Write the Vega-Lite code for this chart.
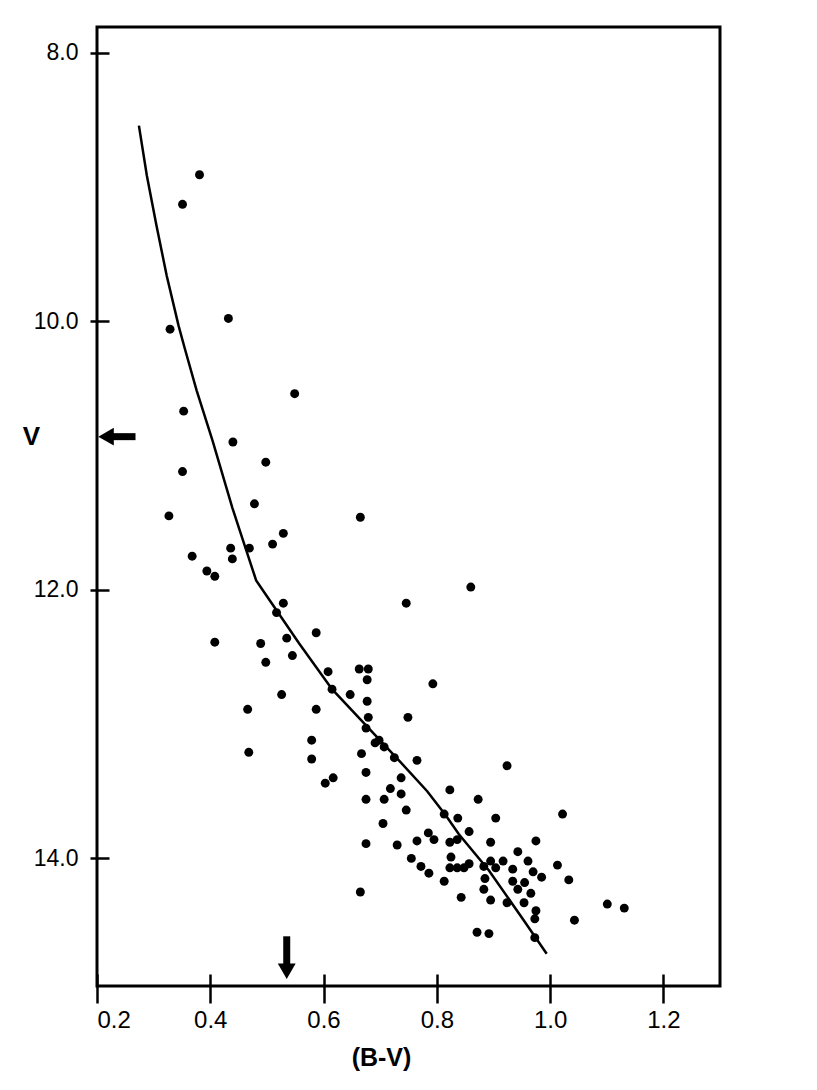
{
  "$schema": "https://vega.github.io/schema/vega-lite/v6.json",
  "width": 623,
  "height": 959,
  "autosize": {"type": "none"},
  "padding": {"left": 97, "top": 27, "right": 97, "bottom": 104},
  "background": "white",
  "config": {
    "view": {"stroke": "black", "strokeWidth": 3},
    "axis": {"labelFont": "Liberation Sans", "titleFont": "Liberation Sans", "labelColor": "black", "titleColor": "black", "tickColor": "black", "domain": false, "grid": false}
  },
  "datasets": {
    "stars": [
      {"bv": 0.381, "v": 8.91}, {"bv": 0.351, "v": 9.13}, {"bv": 0.329, "v": 10.06}, {"bv": 0.432, "v": 9.98},
      {"bv": 0.549, "v": 10.54}, {"bv": 0.353, "v": 10.67}, {"bv": 0.440, "v": 10.90}, {"bv": 0.498, "v": 11.05},
      {"bv": 0.351, "v": 11.12}, {"bv": 0.478, "v": 11.36}, {"bv": 0.327, "v": 11.45}, {"bv": 0.529, "v": 11.58},
      {"bv": 0.510, "v": 11.66}, {"bv": 0.469, "v": 11.69}, {"bv": 0.436, "v": 11.69}, {"bv": 0.439, "v": 11.77},
      {"bv": 0.368, "v": 11.75}, {"bv": 0.394, "v": 11.86}, {"bv": 0.408, "v": 11.90}, {"bv": 0.665, "v": 11.46},
      {"bv": 0.860, "v": 11.98}, {"bv": 0.529, "v": 12.10}, {"bv": 0.746, "v": 12.10}, {"bv": 0.517, "v": 12.17},
      {"bv": 0.408, "v": 12.39}, {"bv": 0.489, "v": 12.40}, {"bv": 0.587, "v": 12.32}, {"bv": 0.535, "v": 12.36},
      {"bv": 0.498, "v": 12.54}, {"bv": 0.545, "v": 12.49}, {"bv": 0.608, "v": 12.61}, {"bv": 0.663, "v": 12.59},
      {"bv": 0.679, "v": 12.59}, {"bv": 0.677, "v": 12.67}, {"bv": 0.793, "v": 12.70}, {"bv": 0.615, "v": 12.74},
      {"bv": 0.647, "v": 12.78}, {"bv": 0.526, "v": 12.78}, {"bv": 0.466, "v": 12.89}, {"bv": 0.587, "v": 12.89},
      {"bv": 0.677, "v": 12.83}, {"bv": 0.679, "v": 12.95}, {"bv": 0.749, "v": 12.95}, {"bv": 0.675, "v": 13.03},
      {"bv": 0.691, "v": 13.14}, {"bv": 0.698, "v": 13.12}, {"bv": 0.707, "v": 13.17}, {"bv": 0.468, "v": 13.21},
      {"bv": 0.579, "v": 13.12}, {"bv": 0.579, "v": 13.26}, {"bv": 0.667, "v": 13.22}, {"bv": 0.725, "v": 13.25},
      {"bv": 0.765, "v": 13.27}, {"bv": 0.675, "v": 13.36}, {"bv": 0.603, "v": 13.44}, {"bv": 0.617, "v": 13.40},
      {"bv": 0.737, "v": 13.40}, {"bv": 0.718, "v": 13.48}, {"bv": 0.737, "v": 13.52}, {"bv": 0.675, "v": 13.56},
      {"bv": 0.707, "v": 13.56}, {"bv": 0.746, "v": 13.64}, {"bv": 0.705, "v": 13.74}, {"bv": 0.813, "v": 13.67},
      {"bv": 0.823, "v": 13.49}, {"bv": 0.924, "v": 13.31}, {"bv": 0.873, "v": 13.56}, {"bv": 1.022, "v": 13.67},
      {"bv": 0.837, "v": 13.70}, {"bv": 0.904, "v": 13.70}, {"bv": 0.857, "v": 13.80}, {"bv": 0.785, "v": 13.81},
      {"bv": 0.795, "v": 13.86}, {"bv": 0.765, "v": 13.87}, {"bv": 0.823, "v": 13.88}, {"bv": 0.836, "v": 13.86},
      {"bv": 0.895, "v": 13.88}, {"bv": 0.975, "v": 13.87}, {"bv": 0.730, "v": 13.90}, {"bv": 0.943, "v": 13.95},
      {"bv": 0.825, "v": 13.99}, {"bv": 0.961, "v": 14.02}, {"bv": 0.917, "v": 14.02}, {"bv": 0.857, "v": 14.04},
      {"bv": 0.895, "v": 14.02}, {"bv": 0.755, "v": 14.00}, {"bv": 1.013, "v": 14.05}, {"bv": 0.823, "v": 14.07},
      {"bv": 0.836, "v": 14.07}, {"bv": 0.848, "v": 14.07}, {"bv": 0.883, "v": 14.06}, {"bv": 0.904, "v": 14.07},
      {"bv": 0.772, "v": 14.06}, {"bv": 0.786, "v": 14.11}, {"bv": 0.934, "v": 14.08}, {"bv": 0.970, "v": 14.10},
      {"bv": 0.985, "v": 14.14}, {"bv": 0.885, "v": 14.15}, {"bv": 0.934, "v": 14.17}, {"bv": 0.955, "v": 14.18},
      {"bv": 1.033, "v": 14.16}, {"bv": 0.813, "v": 14.17}, {"bv": 0.943, "v": 14.23}, {"bv": 0.883, "v": 14.23},
      {"bv": 0.966, "v": 14.26}, {"bv": 0.843, "v": 14.29}, {"bv": 0.895, "v": 14.31}, {"bv": 0.924, "v": 14.33},
      {"bv": 0.954, "v": 14.33}, {"bv": 1.101, "v": 14.34}, {"bv": 1.131, "v": 14.37}, {"bv": 0.975, "v": 14.39},
      {"bv": 0.973, "v": 14.45}, {"bv": 1.043, "v": 14.46}, {"bv": 0.871, "v": 14.55}, {"bv": 0.892, "v": 14.56},
      {"bv": 0.973, "v": 14.59}, {"bv": 0.675, "v": 13.89}, {"bv": 0.665, "v": 14.25}
    ],
    "curve": [
      {"bv": 0.274, "v": 8.544}, {"bv": 0.288, "v": 8.916}, {"bv": 0.305, "v": 9.288}, {"bv": 0.323, "v": 9.66}, {"bv": 0.344, "v": 10.033},
      {"bv": 0.355, "v": 10.204}, {"bv": 0.376, "v": 10.517}, {"bv": 0.404, "v": 10.889}, {"bv": 0.439, "v": 11.39}, {"bv": 0.463, "v": 11.70},
      {"bv": 0.481, "v": 11.93}, {"bv": 0.497, "v": 12.03}, {"bv": 0.557, "v": 12.40}, {"bv": 0.615, "v": 12.74},
      {"bv": 0.675, "v": 13.01}, {"bv": 0.733, "v": 13.27}, {"bv": 0.783, "v": 13.50}, {"bv": 0.816, "v": 13.68},
      {"bv": 0.839, "v": 13.82}, {"bv": 0.892, "v": 14.09}, {"bv": 0.950, "v": 14.44}, {"bv": 0.994, "v": 14.71}
    ],
    "shafts": [
      {"x1": 0.222, "x2": 0.268, "y1": 10.86, "y2": 10.86},
      {"x1": 0.535, "x2": 0.535, "y1": 14.58, "y2": 14.79}
    ],
    "heads": [
      {"x": 0.216, "y": 10.86, "shape": "triangle-left"},
      {"x": 0.535, "y": 14.84, "shape": "triangle-down"}
    ]
  },
  "resolve": {"axis": {"x": "independent", "y": "independent"}},
  "layer": [
    {
      "data": {"name": "stars"},
      "mark": {"type": "circle", "color": "black", "opacity": 1, "size": 80},
      "encoding": {
        "x": {"field": "bv", "type": "quantitative", "scale": {"domain": [0.2, 1.3], "nice": false, "zero": false},
          "axis": {"orient": "bottom", "values": [0.2, 0.4, 0.6, 0.8, 1.0, 1.2], "format": ".1f", "tickSize": 17, "tickWidth": 2.5, "labelFontSize": 24, "labelPadding": 5, "title": "(B-V)", "titleFontSize": 25, "titleFontWeight": "bold", "titleX": 284, "titleY": 71, "titleBaseline": "middle", "titleAlign": "center"}},
        "y": {"field": "v", "type": "quantitative", "scale": {"domain": [14.95, 7.81], "nice": false, "zero": false},
          "axis": {"orient": "left", "values": [8, 10, 12, 14], "format": ".1f", "tickSize": 7, "tickWidth": 2.5, "labelFontSize": 23, "labelPadding": 12, "title": "V", "titleAngle": 0, "titleFontSize": 26, "titleFontWeight": "bold", "titleX": -66, "titleY": 409, "titleBaseline": "middle", "titleAlign": "center"}}
      }
    },
    {
      "data": {"name": "curve"},
      "mark": {"type": "line", "color": "black", "strokeWidth": 2.5},
      "encoding": {
        "x": {"field": "bv", "type": "quantitative", "axis": {"orient": "bottom", "values": [0.2, 0.4, 0.6, 0.8, 1.0, 1.2], "labels": false, "tickSize": -12, "tickWidth": 2.5, "title": null}},
        "y": {"field": "v", "type": "quantitative", "axis": {"orient": "left", "values": [8, 10, 12, 14], "labels": false, "tickSize": -12, "tickWidth": 2.5, "title": null}}
      }
    },
    {
      "data": {"name": "shafts"},
      "mark": {"type": "rule", "color": "black", "strokeWidth": 7},
      "encoding": {
        "x": {"field": "x1", "type": "quantitative", "axis": null},
        "x2": {"field": "x2"},
        "y": {"field": "y1", "type": "quantitative", "axis": null},
        "y2": {"field": "y2"}
      }
    },
    {
      "data": {"name": "heads"},
      "mark": {"type": "point", "filled": true, "color": "black", "opacity": 1, "size": 320},
      "encoding": {
        "x": {"field": "x", "type": "quantitative", "axis": null},
        "y": {"field": "y", "type": "quantitative", "axis": null},
        "shape": {"field": "shape", "type": "nominal", "scale": null, "legend": null}
      }
    }
  ]
}
